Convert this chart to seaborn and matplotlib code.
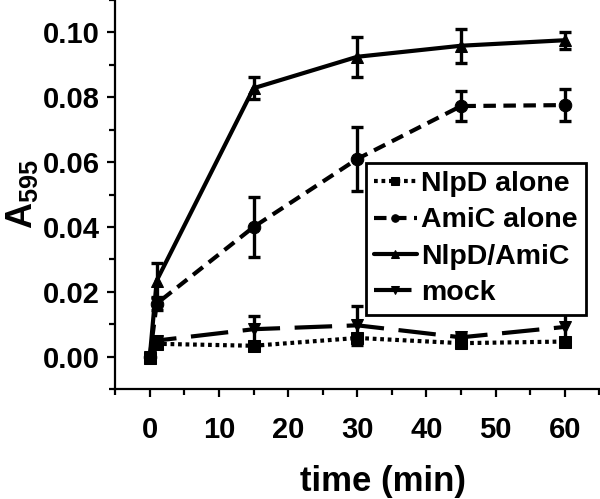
import numpy as np
import pandas as pd
import seaborn as sns
from matplotlib import pyplot as plt
from matplotlib.ticker import MultipleLocator

# data
time = [0, 1, 15, 30, 45, 60]
nlpd_alone = [-0.0005, 0.004, 0.0034, 0.0058, 0.0042, 0.0047]
nlpd_alone_err = [0.001, 0.001, 0.001, 0.001, 0.001, 0.001]
amic_alone = [0.0, 0.0164, 0.040, 0.061, 0.0773, 0.0776]
amic_alone_err = [0.001, 0.002, 0.0093, 0.0098, 0.0046, 0.0049]
nlpd_amic = [0.0, 0.0235, 0.0828, 0.0925, 0.0959, 0.0976]
nlpd_amic_err = [0.001, 0.0053, 0.0034, 0.0062, 0.0052, 0.0026]
mock = [0.0, 0.005, 0.0085, 0.0097, 0.006, 0.0092]
mock_err = [0.001, 0.001, 0.004, 0.006, 0.001, 0.005]

series = ['NlpD alone', 'AmiC alone', 'NlpD/AmiC', 'mock']
vals = [nlpd_alone, amic_alone, nlpd_amic, mock]
errs = [nlpd_alone_err, amic_alone_err, nlpd_amic_err, mock_err]

df = pd.concat([pd.DataFrame({'time': time, 'A595': v, 'err': e, 'sample': s})
                for s, v, e in zip(series, vals, errs)], ignore_index=True)

sns.set_style('ticks')
plt.rcParams['font.family'] = ['Liberation Sans', 'DejaVu Sans']
plt.rcParams['font.weight'] = 'bold'
plt.rcParams['mathtext.fontset'] = 'custom'
plt.rcParams['mathtext.rm'] = 'Liberation Sans:bold'
plt.rcParams['mathtext.bf'] = 'Liberation Sans:bold'
for k in ['text.color', 'axes.labelcolor', 'xtick.color', 'ytick.color', 'axes.edgecolor']:
    plt.rcParams[k] = 'black'

markers = {'NlpD alone': 's', 'AmiC alone': 'o', 'NlpD/AmiC': '^', 'mock': 'v'}
dashes = {'NlpD alone': (0.9, 0.9), 'AmiC alone': (3, 1.8), 'NlpD/AmiC': '', 'mock': (9, 3.5)}
palette = {s: 'black' for s in series}

fig, ax = plt.subplots(figsize=(6, 4.99), dpi=100)
fig.subplots_adjust(left=0.192, right=0.999, bottom=0.22, top=1.0)

for s, v, e in zip(series, vals, errs):
    ax.errorbar(time, v, yerr=e, fmt='none', ecolor='black', elinewidth=2.4,
                capsize=4, capthick=2.4, zorder=3)

sns.lineplot(data=df, x='time', y='A595', hue='sample', style='sample',
             markers=markers, dashes=dashes, palette=palette, hue_order=series,
             style_order=series, linewidth=3, markersize=9,
             markeredgecolor='black', ax=ax, zorder=4)

ax.set_xlim(-5, 65)
ax.set_ylim(-0.01, 0.11)
ax.set_xticks([0, 10, 20, 30, 40, 50, 60])
ax.set_yticks([0.0, 0.02, 0.04, 0.06, 0.08, 0.10])
ax.set_yticklabels(['0.00', '0.02', '0.04', '0.06', '0.08', '0.10'])
ax.xaxis.set_minor_locator(MultipleLocator(5))
ax.yaxis.set_minor_locator(MultipleLocator(0.01))
ax.tick_params(which='major', length=6, width=1.6, labelsize=21, pad=5)
ax.tick_params(axis='x', which='major', pad=13)
ax.tick_params(which='minor', length=4, width=1.6)
for sp in ['top', 'right']:
    ax.spines[sp].set_visible(False)
for sp in ['left', 'bottom']:
    ax.spines[sp].set_linewidth(1.6)

ax.set_xlabel('time (min)', fontsize=25, fontweight='bold')
ax.xaxis.set_label_coords(0.553, -0.237)
ax.xaxis.label.set_verticalalignment('center')
ax.set_ylabel(r'A$_{595}$', fontsize=26, fontweight='bold', labelpad=2)

leg = ax.legend(loc='upper left', bbox_to_anchor=(0.517, 0.582), fontsize=20.5,
                handlelength=1.5, handletextpad=0.15, borderpad=0.3,
                labelspacing=0.36, fancybox=False, framealpha=1, markerscale=0.6,
                borderaxespad=0)
leg.get_frame().set_edgecolor('black')
leg.get_frame().set_linewidth(2)
for t in leg.get_texts():
    t.set_fontweight('bold')

plt.savefig('out.png', dpi=100)
